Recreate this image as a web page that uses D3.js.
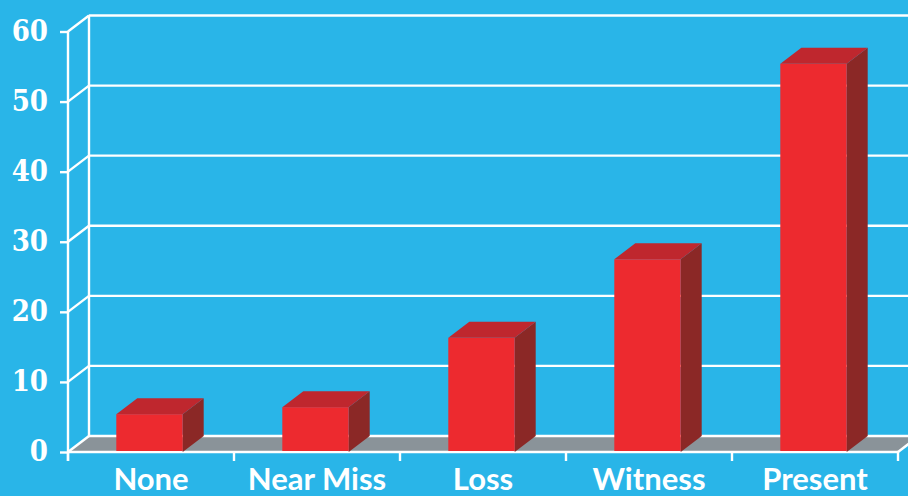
<!DOCTYPE html>
<html>
<head>
<meta charset="utf-8">
<script src="https://cdn.jsdelivr.net/npm/d3@7"></script>
<style>
  html, body { margin: 0; padding: 0; background: #29B5E8; }
  svg { display: block; }
</style>
</head>
<body>
<svg id="chart" width="908" height="496"></svg>
<script>
// Data
const categories = ["None", "Near Miss", "Loss", "Witness", "Present"];
const values = [5.4, 6.4, 16.3, 27.5, 55.4];
const yTicks = [0, 10, 20, 30, 40, 50, 60];

const W = 908, H = 496;
const bg = "#29B5E8";
const depthX = 21, depthY = 16;   // receding offset of the back wall

const svg = d3.select("#chart");
svg.append("rect").attr("width", W).attr("height", H).attr("fill", bg);

const x = d3.scaleBand().domain(categories).range([68, 898]).paddingInner(0.6).paddingOuter(0.3);
const xEdge = d3.scaleBand().domain(categories).range([68, 898]);
const y = d3.scaleLinear().domain([0, 60]).range([452, 31.5]);

const white = "#FFFFFF";
const sw = 2.4;

// Floor
const x0 = 68, x1 = 898;
svg.append("polygon")
  .attr("points", [[x0, y(0)], [x1, y(0)], [x1 + depthX, y(0) - depthY], [x0 + depthX, y(0) - depthY]].join(" "))
  .attr("fill", "#8A9399");

// Back-wall gridlines and their diagonal connectors
const grid = svg.append("g");
yTicks.forEach(t => {
  grid.append("line")
    .attr("x1", x0 + depthX).attr("x2", W + 20)
    .attr("y1", y(t) - depthY).attr("y2", y(t) - depthY)
    .attr("stroke", white).attr("stroke-width", sw);
  grid.append("line")
    .attr("x1", x0).attr("x2", x0 + depthX)
    .attr("y1", y(t)).attr("y2", y(t) - depthY)
    .attr("stroke", white).attr("stroke-width", sw);
});
// Back wall left edge
grid.append("line")
  .attr("x1", x0 + depthX).attr("x2", x0 + depthX)
  .attr("y1", y(60) - depthY).attr("y2", y(0) - depthY)
  .attr("stroke", white).attr("stroke-width", sw);

// Floor front edge, right diagonal
grid.append("line")
  .attr("x1", x1).attr("x2", x1 + depthX)
  .attr("y1", y(0)).attr("y2", y(0) - depthY)
  .attr("stroke", white).attr("stroke-width", sw);

// Front y axis
const yAxis = d3.axisLeft(y).tickValues(yTicks).tickSize(8).tickPadding(12).tickFormat(d3.format("d"));
const gy = svg.append("g").attr("transform", `translate(${x0},0)`).call(yAxis);
gy.select(".domain").remove();
gy.selectAll(".tick line").attr("stroke", white).attr("stroke-width", sw);
gy.selectAll(".tick text")
  .attr("fill", white)
  .attr("font-family", "'DejaVu Serif', serif")
  .attr("font-stretch", "condensed")
  .attr("font-weight", "bold")
  .attr("font-size", 29)
  .attr("dy", "0.3em");
svg.append("line")
  .attr("x1", x0).attr("x2", x0)
  .attr("y1", y(60)).attr("y2", y(0) + 9)
  .attr("stroke", white).attr("stroke-width", sw);

// Front x axis line with ticks at category boundaries
svg.append("line")
  .attr("x1", x0).attr("x2", x1)
  .attr("y1", y(0)).attr("y2", y(0))
  .attr("stroke", white).attr("stroke-width", sw);
const edges = categories.map(c => xEdge(c)).concat([x1]);
svg.append("g").selectAll("line").data(edges).join("line")
  .attr("x1", d => d).attr("x2", d => d)
  .attr("y1", y(0)).attr("y2", y(0) + 9)
  .attr("stroke", white).attr("stroke-width", sw);

// Category labels
const xAxis = d3.axisBottom(xEdge).tickSize(0).tickPadding(0);
const gx = svg.append("g").attr("transform", `translate(0,${y(0)})`).call(xAxis);
gx.select(".domain").remove();
gx.selectAll(".tick text")
  .attr("fill", white)
  .attr("font-family", "Lato, 'Open Sans', sans-serif")
  .attr("font-weight", "bold")
  .attr("font-size", 31)
  .attr("dy", 0)
  .attr("y", 37.5)
  .attr("dominant-baseline", "auto");

// 3D bars
const bars = svg.append("g").selectAll("g").data(categories.map((c, i) => ({ c, v: values[i] }))).join("g");
bars.each(function(d) {
  const g = d3.select(this);
  const bx0 = x(d.c) - 1.5, bx1 = bx0 + x.bandwidth();
  const top = y(d.v), base = y(0);
  g.append("polygon")
    .attr("points", [[bx1, top], [bx1 + depthX, top - depthY], [bx1 + depthX, base - depthY], [bx1, base]].join(" "))
    .attr("fill", "#8B2826");
  g.append("polygon")
    .attr("points", [[bx0, top], [bx1, top], [bx1 + depthX, top - depthY], [bx0 + depthX, top - depthY]].join(" "))
    .attr("fill", "#BF272E");
  g.append("rect")
    .attr("x", bx0).attr("y", top)
    .attr("width", bx1 - bx0).attr("height", base - top - 1)
    .attr("fill", "#ED2A2F");
});
</script>
</body>
</html>
